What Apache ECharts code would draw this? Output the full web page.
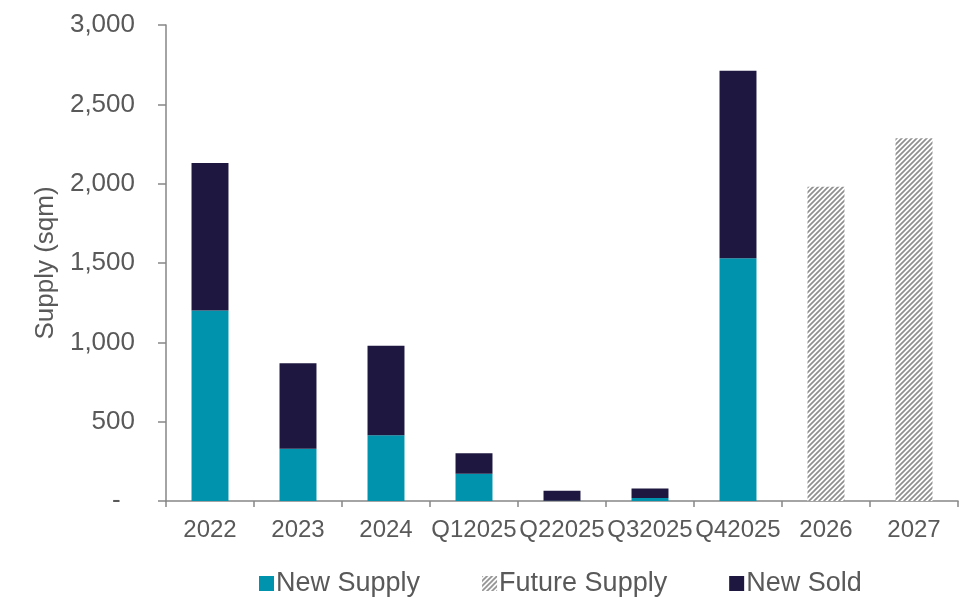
<!DOCTYPE html>
<html><head><meta charset="utf-8">
<script src="https://cdn.jsdelivr.net/npm/echarts@6/dist/echarts.min.js"></script>
<style>html,body{margin:0;padding:0;background:#fff}#c{width:980px;height:598px}</style>
</head><body><div id="c"></div>
<script>
const categories = ['2022','2023','2024','Q12025','Q22025','Q32025','Q42025','2026','2027'];
const newSupply = [1200, 330, 414, 172, 2, 19, 1530, '-', '-'];
const futureSupply = ['-', '-', '-', '-', '-', '-', '-', 1980, 2287];
const newSold = [930, 538, 565, 129, 63, 59, 1181, '-', '-'];
const yTicks = [0, 500, 1000, 1500, 2000, 2500, 3000];

function hatch() {
  const c = document.createElement('canvas');
  c.width = 5; c.height = 5;
  const g = c.getContext('2d');
  g.fillStyle = '#ffffff'; g.fillRect(0,0,5,5);
  g.strokeStyle = '#8f8f8f'; g.lineWidth = 1.7;
  g.beginPath();
  g.moveTo(-1,1); g.lineTo(1,-1);
  g.moveTo(-1,6); g.lineTo(6,-1);
  g.moveTo(4,6); g.lineTo(6,4);
  g.stroke();
  return c;
}

const font = 'Liberation Sans, Arial, sans-serif';
const txt = '#595959';
const axisCol = '#868686';
const chart = echarts.init(document.getElementById('c'), null, {renderer:'canvas'});
chart.setOption({
  animation: false,
  backgroundColor: '#fff',
  grid: {left: 166, right: 22, top: 25, bottom: 97},
  legend: {
    top: 570, left: 259, padding: 0, itemWidth: 15, itemHeight: 15, itemGap: 62,
    icon: 'rect',
    textStyle: {fontFamily: font, fontSize: 27, color: txt, padding: [0,0,0,-3]},
    data: ['New Supply', 'Future Supply', 'New Sold']
  },
  xAxis: {
    type: 'category', data: categories,
    axisLine: {lineStyle: {color: axisCol, width: 1.5}},
    axisTick: {show: true, length: 6, lineStyle: {color: axisCol, width: 1.5}},
    axisLabel: {fontFamily: font, fontSize: 24, color: txt, margin: 17, interval: 0}
  },
  yAxis: {
    type: 'value', min: yTicks[0], max: yTicks[yTicks.length-1], interval: 500,
    name: 'Supply (sqm)', nameLocation: 'middle', nameGap: 106,
    nameTextStyle: {fontFamily: font, fontSize: 26, color: txt},
    axisLine: {show: true, lineStyle: {color: axisCol, width: 1.5}},
    axisTick: {show: true, length: 8, inside: false, lineStyle: {color: axisCol, width: 1.5}},
    splitLine: {show: false},
    axisLabel: {fontFamily: font, fontSize: 26, color: txt, margin: 31,
      formatter: v => v === 0 ? '-  ' : v.toLocaleString('en-US')}
  },
  series: [
    {name: 'New Supply', type: 'bar', stack: 'a', data: newSupply, barWidth: '42%',
      itemStyle: {color: '#0093AD'}},
    {name: 'Future Supply', type: 'bar', stack: 'a', data: futureSupply, barWidth: '42%',
      itemStyle: {color: {image: hatch(), repeat: 'repeat'}}},
    {name: 'New Sold', type: 'bar', stack: 'a', data: newSold, barWidth: '42%',
      itemStyle: {color: '#1E1840'}}
  ]
});
</script></body></html>
